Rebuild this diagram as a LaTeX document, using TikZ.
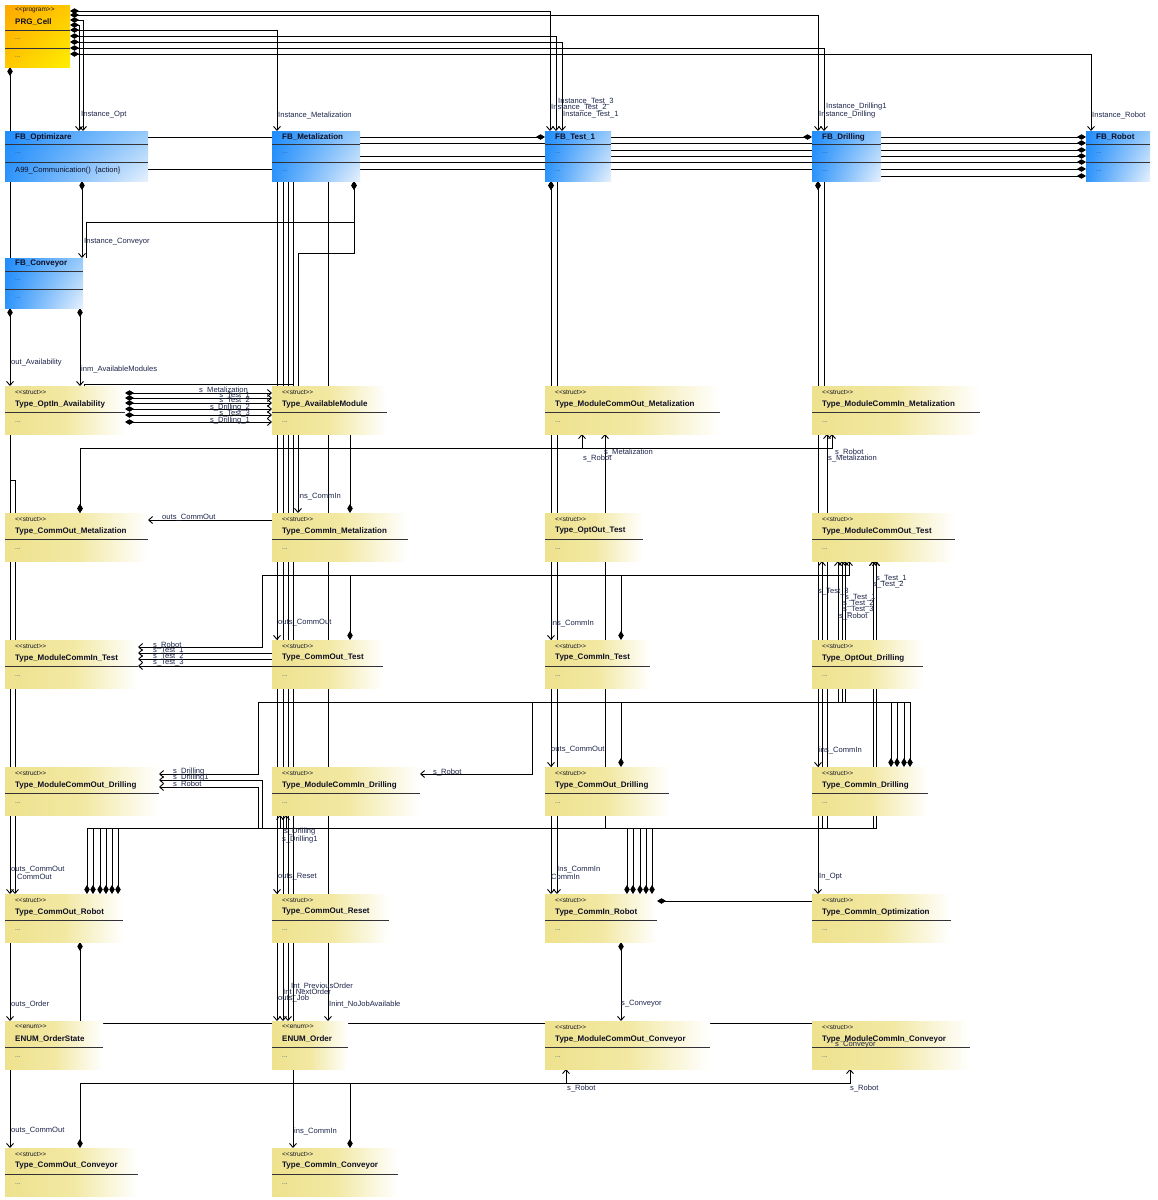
\documentclass[tikz,border=0pt]{standalone}
\usepackage{fontspec}
\setmainfont{Liberation Sans}
\usetikzlibrary{arrows.meta,shadings}

\definecolor{lblc}{RGB}{30,38,75}
\definecolor{ttlc}{RGB}{15,15,35}
\definecolor{dotc}{RGB}{40,80,140}
\definecolor{sepc}{RGB}{50,50,55}
\definecolor{stA}{RGB}{238,226,142}
\definecolor{stB}{RGB}{242,232,162}
\definecolor{fbA}{RGB}{32,140,252}
\definecolor{fbA2}{RGB}{45,148,250}
\definecolor{fbB}{RGB}{150,202,250}
\definecolor{fbC}{RGB}{232,241,253}
\definecolor{prA}{RGB}{255,168,0}
\definecolor{prB}{RGB}{255,200,0}
\definecolor{prC}{RGB}{255,238,0}

\pgfdeclarelayer{bg}
\pgfsetlayers{bg,main}

\tikzset{
  boxn/.style={inner sep=0pt, outer sep=0pt, anchor=north west},
  stfill/.style={left color=stA, right color=white, middle color=stB},
  fbfill/.style={upper left=fbA, lower left=fbA2, upper right=fbB, lower right=fbC},
  prfill/.style={upper left=prA, lower left=prB, upper right=prB, lower right=prC},
  sepl/.style={line width=1pt, draw=sepc},
  ttl/.style={font=\fontsize{8}{9}\selectfont\bfseries, text=ttlc, inner sep=0pt, anchor=west},
  stereo/.style={font=\fontsize{6.5}{7}\selectfont, text=ttlc, inner sep=0pt, anchor=west},
  dotsn/.style={font=\fontsize{6.5}{7}\selectfont, text=dotc, inner sep=0pt, anchor=west},
  optxt/.style={font=\fontsize{7.6}{8}\selectfont, text=ttlc, inner sep=0pt, anchor=west},
  lbl/.style={font=\fontsize{7.6}{8}\selectfont, text=lblc, inner sep=0pt, anchor=west},
  lbr/.style={lbl, anchor=east},
  conn/.style={line width=0.9pt, draw=black},
  cmp/.style={conn, {Diamond[length=9pt,width=5.5pt]}-{Straight Barb[length=4pt,width=7pt]}},
  dia/.style={conn, {Diamond[length=9pt,width=5.5pt]}-},
  arr/.style={conn, -{Straight Barb[length=4pt,width=7pt]}},
  plainc/.style={conn}
}

\newcommand\stereotxt[1]{{<}{<}#1{>}{>}}

% struct / enum class box: name, x, y, width, stereotype, title
\newcommand\structbox[6]{%
  \node[boxn, minimum width=#4pt, minimum height=48pt] (#1) at (#2,#3) {};
  \shade[stfill] (#1.north west) rectangle (#1.south east);
  \draw[sepl] ([yshift=-26pt]#1.north west) -- ([yshift=-26pt]#1.north east);
  \node[stereo] (#1-s) at ([xshift=10pt,yshift=-6pt]#1.north west) {\stereotxt{#5}};
  \node[ttl] (#1-n) at ([xshift=10pt,yshift=-18pt]#1.north west) {#6};
  \node[dotsn] (#1-a) at ([xshift=10pt,yshift=-36pt]#1.north west) {...};
}

% function block box: name, x, y, width, title, style of last row, last row
\newcommand\fbbox[7]{%
  \node[boxn, minimum width=#4pt, minimum height=50pt] (#1) at (#2,#3) {};
  \shade[fbfill] (#1.north west) rectangle (#1.south east);
  \draw[sepl] ([yshift=-13pt]#1.north west) -- ([yshift=-13pt]#1.north east);
  \draw[sepl] ([yshift=-31pt]#1.north west) -- ([yshift=-31pt]#1.north east);
  \node[ttl] (#1-n) at ([xshift=10pt,yshift=-6pt]#1.north west) {#5};
  \node[dotsn] (#1-a) at ([xshift=10pt,yshift=-22pt]#1.north west) {...};
  \node[#6] (#1-b) at ([xshift=10pt,yshift=-40pt]#1.north west) {#7};
}

\newcommand\lab[4]{\node[lbl] (#1) at (#2,#3) {#4};}
\newcommand\labr[4]{\node[lbr] (#1) at (#2,#3) {#4};}

\begin{document}
\begin{tikzpicture}[x=1pt,y=-1pt]
\begin{pgfonlayer}{bg}
  \fill[white] (0,0) rectangle (1158,1200);
\end{pgfonlayer}
\useasboundingbox (0,0) rectangle (1158,1200);

% ---------- program ----------
\node[boxn, minimum width=65pt, minimum height=62pt] (PRG) at (5,5) {};
\shade[prfill] (PRG.north west) rectangle (PRG.south east);
\draw[sepl] ([yshift=-25pt]PRG.north west) -- ([yshift=-25pt]PRG.north east);
\draw[sepl] ([yshift=-43pt]PRG.north west) -- ([yshift=-43pt]PRG.north east);
\node[stereo] (PRG-s) at ([xshift=10pt,yshift=-5pt]PRG.north west) {\stereotxt{program}};
\node[ttl] (PRG-n) at ([xshift=10pt,yshift=-17pt]PRG.north west) {PRG\_Cell};
\node[dotsn] (PRG-a) at ([xshift=10pt,yshift=-34pt]PRG.north west) {...};
\node[dotsn] (PRG-b) at ([xshift=10pt,yshift=-52pt]PRG.north west) {...};

% ---------- function blocks ----------
\fbbox{FBO}{5}{131}{143}{FB\_Optimizare}{optxt}{A99\_Communication()\ \ \{action\}}
\fbbox{FBM}{272}{131}{88}{FB\_Metalization}{dotsn}{...}
\fbbox{FBT}{545}{131}{66}{FB\_Test\_1}{dotsn}{...}
\fbbox{FBD}{812}{131}{69}{FB\_Drilling}{dotsn}{...}
\fbbox{FBR}{1086}{131}{64}{FB\_Robot}{dotsn}{...}
\fbbox{FBC}{5}{258}{78}{FB\_Conveyor}{dotsn}{...}

% ---------- structures ----------
\structbox{OIA}{5}{386}{120}{struct}{Type\_OptIn\_Availability}
\structbox{AVM}{272}{386}{115}{struct}{Type\_AvailableModule}
\structbox{MOMet}{545}{386}{175}{struct}{Type\_ModuleCommOut\_Metalization}
\structbox{MIMet}{812}{386}{168}{struct}{Type\_ModuleCommIn\_Metalization}

\structbox{COMet}{5}{513}{143}{struct}{Type\_CommOut\_Metalization}
\structbox{CIMet}{272}{513}{136}{struct}{Type\_CommIn\_Metalization}
\structbox{OOT}{545}{513}{98}{struct}{Type\_OptOut\_Test}
\structbox{MOT}{812}{513}{143}{struct}{Type\_ModuleCommOut\_Test}

\structbox{MIT}{5}{640}{133}{struct}{Type\_ModuleCommIn\_Test}
\structbox{COT}{272}{640}{111}{struct}{Type\_CommOut\_Test}
\structbox{CIT}{545}{640}{105}{struct}{Type\_CommIn\_Test}
\structbox{OOD}{812}{640}{111}{struct}{Type\_OptOut\_Drilling}

\structbox{MOD}{5}{767}{154}{struct}{Type\_ModuleCommOut\_Drilling}
\structbox{MID}{272}{767}{148}{struct}{Type\_ModuleCommIn\_Drilling}
\structbox{COD}{545}{767}{124}{struct}{Type\_CommOut\_Drilling}
\structbox{CID}{812}{767}{116}{struct}{Type\_CommIn\_Drilling}

\structbox{COR}{5}{894}{118}{struct}{Type\_CommOut\_Robot}
\structbox{CORes}{272}{894}{117}{struct}{Type\_CommOut\_Reset}
\structbox{CIR}{545}{894}{112}{struct}{Type\_CommIn\_Robot}
\structbox{CIO}{812}{894}{139}{struct}{Type\_CommIn\_Optimization}

\structbox{EOS}{5}{1021}{98}{enum}{ENUM\_OrderState}
\structbox{EO}{272}{1021}{76}{enum}{ENUM\_Order}
\structbox{MOC}{545}{1021}{165}{struct}{Type\_ModuleCommOut\_Conveyor}
\structbox{MIC}{812}{1021}{158}{struct}{Type\_ModuleCommIn\_Conveyor}

\structbox{COC}{5}{1148}{133}{struct}{Type\_CommOut\_Conveyor}
\structbox{CIC}{272}{1148}{126}{struct}{Type\_CommIn\_Conveyor}

% ---------- connectors ----------
\begin{pgfonlayer}{bg}
% program instances
\draw[cmp] (PRG.east |- 0,11) -| (FBT.north -| 550,0);
\draw[cmp] (PRG.east |- 0,15) -| (FBD.north -| 818,0);
\draw[cmp] (PRG.east |- 0,20) -| (FBO.north -| 83,0);
\draw[cmp] (PRG.east |- 0,25) -| (FBO.north -| 79,0);
\draw[cmp] (PRG.east |- 0,30) -| (FBM.north -| 277,0);
\draw[cmp] (PRG.east |- 0,36) -| (FBT.north -| 556,0);
\draw[cmp] (PRG.east |- 0,42) -| (FBT.north -| 562,0);
\draw[cmp] (PRG.east |- 0,48) -| (FBD.north -| 824,0);
\draw[cmp] (PRG.east |- 0,54) -| (FBR.north -| 1091,0);
\draw[dia] (PRG.south -| 10,0) -- (FBC.north -| 10,0);

% function block row
\draw[dia] (FBT.west |- 0,137) -- (FBO.east |- 0,137);
\draw[dia] (FBD.west |- 0,137) -- (FBT.east |- 0,137);
\draw[dia] (FBR.west |- 0,137) -- (FBD.east |- 0,137);
\draw[dia] (FBR.west |- 0,143) -- (FBM.east |- 0,143);
\draw[dia] (FBR.west |- 0,150) -- (FBT.east |- 0,150);
\draw[dia] (FBR.west |- 0,156) -- (FBM.east |- 0,156);
\draw[dia] (FBR.west |- 0,162) -- (FBM.east |- 0,162);
\draw[dia] (FBR.west |- 0,169) -- (FBO.east |- 0,169);
\draw[dia] (FBR.west |- 0,176) -- (FBD.east |- 0,176);

% below the function blocks
\draw[cmp] (FBO.south -| 82,0) -- (FBC.north -| 82,0);
\draw[dia] (FBM.south -| 354,0) -- (354,222) -- (86,222) -- (FBC.north -| 86,0);
\draw[cmp] (FBC.south -| 10,0) -- (OIA.north -| 10,0);
\draw[cmp] (FBC.south -| 80,0) -- (OIA.north -| 80,0);
\draw[plainc] (FBM.south -| 293,0) -- (293,384) -- (84,384) -- (OIA.north -| 84,0);

\draw[arr] (FBM.south -| 277,0) -- (COT.north -| 277,0);
\draw[arr] (FBM.south -| 277,0) -- (CORes.north -| 277,0);
\draw[arr] (FBM.south -| 277,0) -- (EO.north -| 277,0);
\draw[arr] (FBM.south -| 283,0) -- (EO.north -| 283,0);
\draw[arr] (FBM.south -| 288,0) -- (EO.north -| 288,0);
\draw[arr] (FBM.south -| 293,0) -- (CIC.north -| 293,0);
\draw[arr] (FBM.south -| 328,0) -- (EO.north -| 328,0);
\draw[cmp] (FBM.south -| 354,0) -- (354,253) -- (298,253) -- (CIMet.north -| 298,0);
\draw[dia] (CIMet.north -| 350,0) -- (AVM.south -| 350,0);

\foreach \yy in {393,398,403,409,415,422}
  \draw[cmp] (OIA.east |- 0,\yy) -- (AVM.west |- 0,\yy);

\draw[arr] (CIMet.west |- 0,520) -- (COMet.east |- 0,520);

% left column
\draw[arr] (OIA.south -| 10,0) -- (COR.north -| 10,0);
\draw[arr] (OIA.south -| 10,0) -- (10,480) -- (15,480) -- (COR.north -| 15,0);
\draw[arr] (COR.south -| 10,0) -- (EOS.north -| 10,0);
\draw[arr] (EOS.south -| 10,0) -- (COC.north -| 10,0);
\draw[dia] (COR.south -| 80,0) -- (EOS.north -| 80,0);

% row at 448
\draw[cmp] (COMet.north -| 80,0) -- (80,448) -- (832,448) -- (MIMet.south -| 832,0);
\draw[cmp] (COMet.north -| 80,0) -- (80,448) -- (582,448) -- (MOMet.south -| 582,0);

% test column
\draw[cmp] (FBT.south -| 551,0) -- (CIT.north -| 551,0);
\draw[cmp] (FBT.south -| 551,0) -- (COD.north -| 551,0);
\draw[cmp] (FBT.south -| 551,0) -- (CIR.north -| 551,0);
\draw[arr] (FBT.south -| 557,0) -- (CIR.north -| 557,0);

% drilling column
\draw[cmp] (FBD.south -| 818,0) -- (CID.north -| 818,0);
\draw[cmp] (FBD.south -| 818,0) -- (CIO.north -| 818,0);
\draw[plainc] (FBD.south -| 824,0) -- (MIMet.north -| 824,0);

% row at 575
\draw[cmp] (CIT.north -| 621,0) -- (621,575) -- (262,575) -- (262,647) -- (MIT.east |- 0,647);
\draw[cmp] (COT.north -| 350,0) -- (350,575) -- (849,575) -- (MOT.south -| 849,0);
\foreach \yy in {653,659,666}
  \draw[arr] (COT.west |- 0,\yy) -- (MIT.east |- 0,\yy);

% row at 702
\draw[cmp] (CID.north -| 891,0) -- (891,702) -- (258,702) -- (258,774) -- (MOD.east |- 0,774);
\draw[cmp] (CID.north -| 897,0) -- (897,702) -- (838,702) -- (MOT.south -| 838,0);
\draw[cmp] (CID.north -| 904,0) -- (904,702) -- (842,702) -- (MOT.south -| 842,0);
\draw[cmp] (CID.north -| 910,0) -- (910,702) -- (845,702) -- (MOT.south -| 845,0);
\draw[cmp] (COD.north -| 621,0) -- (621,702) -- (532,702) -- (532,774) -- (MID.east |- 0,774);

% row at 828
\draw[cmp] (COR.north -| 87,0) -- (87,828) -- (262,828) -- (262,780) -- (MOD.east |- 0,780);
\draw[cmp] (COR.north -| 93,0) -- (93,828) -- (258,828) -- (258,787) -- (MOD.east |- 0,787);
\draw[cmp] (COR.north -| 100,0) -- (100,828) -- (822,828) -- (MOT.south -| 822,0);
\draw[cmp] (COR.north -| 106,0) -- (106,828) -- (827,828) -- (MIMet.south -| 827,0);
\draw[cmp] (COR.north -| 112,0) -- (112,828) -- (873,828) -- (MOT.south -| 873,0);
\draw[cmp] (COR.north -| 118,0) -- (118,828) -- (876,828) -- (MOT.south -| 876,0);
\draw[cmp] (CIR.north -| 627,0) -- (627,828) -- (280,828) -- (MID.south -| 280,0);
\draw[cmp] (CIR.north -| 633,0) -- (633,828) -- (286,828) -- (MID.south -| 286,0);
\draw[cmp] (CIR.north -| 640,0) -- (640,828) -- (605,828) -- (MOMet.south -| 605,0);
\draw[cmp] (CIR.north -| 646,0) -- (646,828) -- (873,828) -- (MOT.south -| 873,0);
\draw[cmp] (CIR.north -| 652,0) -- (652,828) -- (876,828) -- (MOT.south -| 876,0);

% lower rows
\draw[dia] (CIR.east |- 0,901) -- (CIO.west |- 0,901);
\draw[cmp] (CIR.south -| 621,0) -- (MOC.north -| 621,0);
\draw[plainc] (EOS.east |- 0,1023) -- (MIC.west |- 0,1023);
\draw[cmp] (COC.north -| 80,0) -- (80,1083) -- (566,1083) -- (MOC.south -| 566,0);
\draw[cmp] (CIC.north -| 350,0) -- (350,1083) -- (850,1083) -- (MIC.south -| 850,0);
\end{pgfonlayer}

% ---------- role names ----------
\lab{lA}{81}{115}{Instance\_Opt}
\lab{lB}{278}{115}{Instance\_Metalization}
\lab{lC}{558}{102}{Instance\_Test\_3}
\lab{lD}{551}{108}{Instance\_Test\_2}
\lab{lE}{563}{115}{Instance\_Test\_1}
\lab{lF}{826}{107}{Instance\_Drilling1}
\lab{lG}{819}{115}{Instance\_Drilling}
\lab{lH}{1092}{115}{Instance\_Robot}
\lab{lI}{84}{242}{Instance\_Conveyor}
\lab{lJ}{11}{363}{out\_Availability}
\lab{lK}{81}{369}{inm\_AvailableModules}
\labr{lL1}{248}{390}{s\_Metalization}
\labr{lL2}{250}{396}{s\_Test\_1}
\labr{lL3}{250}{401}{s\_Test\_2}
\labr{lL4}{250}{408}{s\_Drilling\_2}
\labr{lL5}{250}{414}{s\_Test\_3}
\labr{lL6}{250}{421}{s\_Drilling\_1}
\lab{lM}{604}{452}{s\_Metalization}
\lab{lN}{583}{458}{s\_Robot}
\lab{lO}{835}{452}{s\_Robot}
\lab{lP}{828}{458}{s\_Metalization}
\lab{lQ}{298}{496}{ins\_CommIn}
\lab{lR}{162}{518}{outs\_CommOut}
\lab{lS}{278}{623}{outs\_CommOut}
\lab{lT}{551}{623}{ins\_CommIn}
\lab{lU1}{153}{645}{s\_Robot}
\lab{lU2}{153}{651}{s\_Test\_1}
\lab{lU3}{153}{657}{s\_Test\_2}
\lab{lU4}{153}{663}{s\_Test\_3}
\lab{lV1}{876}{579}{s\_Test\_1}
\lab{lV2}{873}{585}{s\_Test\_2}
\lab{lV3}{818}{592}{s\_Test\_3}
\lab{lV4}{845}{598}{s\_Test\_1}
\lab{lV5}{843}{604}{s\_Test\_2}
\lab{lV6}{843}{610}{s\_Test\_3}
\lab{lV7}{839}{616}{s\_Robot}
\lab{lW1}{551}{750}{outs\_CommOut}
\lab{lW2}{819}{750}{ins\_CommIn}
\lab{lX1}{173}{772}{s\_Drilling}
\lab{lX2}{173}{778}{s\_Drilling1}
\lab{lX3}{173}{784}{s\_Robot}
\lab{lX4}{433}{772}{s\_Robot}
\lab{lX5}{284}{832}{s\_Drilling}
\lab{lX6}{282}{840}{s\_Drilling1}
\lab{lY1}{11}{870}{outs\_CommOut}
\lab{lY2}{17}{877}{CommOut}
\lab{lY3}{278}{877}{outs\_Reset}
\lab{lY4}{557}{870}{Ins\_CommIn}
\lab{lY5}{551}{877}{CommIn}
\lab{lY6}{819}{877}{In\_Opt}
\lab{lZ1}{11}{1004}{outs\_Order}
\lab{lZ2}{291}{986}{Int\_PreviousOrder}
\lab{lZ3}{283}{992}{Int\_NextOrder}
\lab{lZ4}{278}{998}{outs\_Job}
\lab{lZ5}{329}{1004}{Inint\_NoJobAvailable}
\lab{lZ6}{621}{1004}{s\_Conveyor}
\lab{lZ7}{835}{1045}{s\_Conveyor}
\lab{lZ8}{567}{1088}{s\_Robot}
\lab{lZ9}{850}{1088}{s\_Robot}
\lab{lZ10}{11}{1131}{outs\_CommOut}
\lab{lZ11}{294}{1131}{ins\_CommIn}
\end{tikzpicture}
\end{document}
